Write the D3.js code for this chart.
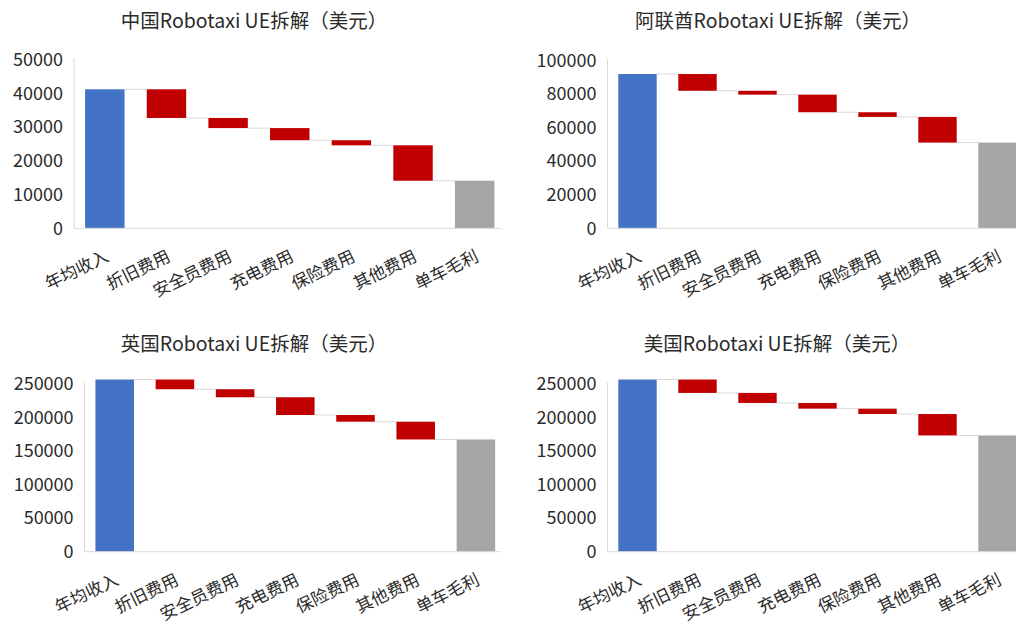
<!DOCTYPE html>
<html>
<head>
<meta charset="utf-8">
<script src="https://cdn.jsdelivr.net/npm/d3@7"></script>
<style>
  html, body { margin: 0; padding: 0; background: #fff; }
  svg { display: block; }
  text { font-family: "Noto Sans CJK SC", "Noto Sans", sans-serif; }
</style>
</head>
<body>
<svg id="chart" width="1016" height="624"></svg>
<script>
// Waterfall categories: revenue, cost items, gross profit per vehicle-year
const categories = ["年均收入", "折旧费用", "安全员费用", "充电费用", "保险费用", "其他费用", "单车毛利"];

// USD per vehicle per year: [revenue, costs..., profit]
const chinaValues = [41200, 8500, 3000, 3600, 1500, 10500, 14100];
const uaeValues   = [92000, 10000, 2300, 10500, 2800, 15300, 51100];
const ukValues    = [257000, 14500, 12000, 26500, 10000, 26500, 167500];
const usValues    = [257000, 20000, 15000, 8500, 8000, 32000, 173500];

const chinaTicks = [0, 10000, 20000, 30000, 40000, 50000];
const uaeTicks   = [0, 20000, 40000, 60000, 80000, 100000];
const ukTicks    = [0, 50000, 100000, 150000, 200000, 250000];
const usTicks    = [0, 50000, 100000, 150000, 200000, 250000];

const titles = [
  "中国Robotaxi UE拆解（美元）",
  "阿联酋Robotaxi UE拆解（美元）",
  "英国Robotaxi UE拆解（美元）",
  "美国Robotaxi UE拆解（美元）"
];

const COLORS = { total: "#4472C4", cost: "#C00000", result: "#A5A5A5", grid: "#D9D9D9", text: "#2b2b2b" };

const panels = [
  { title: titles[0], values: chinaValues, ticks: chinaTicks, x0: 74,    x1: 505.5, y0: 228.3, y1: 59.6,  titleX: 254, titleY: 28 },
  { title: titles[1], values: uaeValues,   ticks: uaeTicks,   x0: 607.5, x1: 1027.5, y0: 228.3, y1: 60.6, titleX: 778, titleY: 28 },
  { title: titles[2], values: ukValues,    ticks: ukTicks,    x0: 84.6,  x1: 506,   y0: 551.7, y1: 384.2, titleX: 254, titleY: 351 },
  { title: titles[3], values: usValues,    ticks: usTicks,    x0: 607.5, x1: 1027.5, y0: 551.7, y1: 384.2, titleX: 777, titleY: 351 }
];

const svg = d3.select("#chart");

panels.forEach(p => {
  const g = svg.append("g");
  const vals = p.values;
  const last = vals.length - 1;
  const maxTick = p.ticks[p.ticks.length - 1];

  // Build waterfall steps: first and last are totals from zero, middle are decreases
  let running = vals[0];
  const steps = vals.map((v, i) => {
    if (i === 0) return { cat: categories[i], lo: 0, hi: v, type: "total" };
    if (i === last) return { cat: categories[i], lo: 0, hi: v, type: "result" };
    const hi = running;
    running -= v;
    return { cat: categories[i], lo: running, hi: hi, type: "cost" };
  });

  const x = d3.scaleBand().domain(categories).range([p.x0, p.x1]).paddingInner(0.36).paddingOuter(0.18);
  const y = d3.scaleLinear().domain([0, maxTick]).range([p.y0, p.y1]);

  // Axis lines
  const axisRight = Math.min(p.x1 - 5, 1016);
  g.append("line").attr("x1", p.x0).attr("x2", p.x0).attr("y1", p.y1 - 1.5).attr("y2", p.y0)
    .attr("stroke", COLORS.grid).attr("stroke-width", 1);

  // Connectors between consecutive bars
  steps.forEach((s, i) => {
    if (i === last) return;
    const level = s.type === "total" ? s.hi : s.lo;
    g.append("line")
      .attr("x1", x(s.cat) + x.bandwidth())
      .attr("x2", x(steps[i + 1].cat))
      .attr("y1", y(level)).attr("y2", y(level))
      .attr("stroke", COLORS.grid).attr("stroke-width", 1);
  });

  // Bars
  g.selectAll("rect.bar").data(steps).join("rect")
    .attr("class", "bar")
    .attr("x", d => x(d.cat))
    .attr("width", x.bandwidth())
    .attr("y", d => y(d.hi))
    .attr("height", d => y(d.lo) - y(d.hi))
    .attr("fill", d => COLORS[d.type]);

  g.append("line").attr("x1", p.x0).attr("x2", axisRight).attr("y1", p.y0).attr("y2", p.y0)
    .attr("stroke", COLORS.grid).attr("stroke-width", 1);

  // Y axis labels
  const yAxis = g.append("g").attr("transform", `translate(${p.x0 - 11},0)`)
    .call(d3.axisLeft(y).tickValues(p.ticks).tickSize(0).tickPadding(0).tickFormat(d3.format("d")));
  yAxis.select(".domain").remove();
  yAxis.selectAll("text").attr("font-size", 18).attr("fill", COLORS.text)
    .attr("font-family", "'Noto Sans CJK SC', 'Noto Sans', sans-serif");

  // X axis labels, rotated
  const xAxis = g.append("g").attr("transform", `translate(0,${p.y0})`)
    .call(d3.axisBottom(x).tickSize(0));
  xAxis.select(".domain").remove();
  xAxis.selectAll("text")
    .attr("x", 0).attr("y", 0).attr("dy", 0)
    .attr("text-anchor", "end")
    .attr("transform", "translate(5,32) rotate(-26)")
    .attr("font-size", 17).attr("fill", COLORS.text)
    .attr("font-family", "'Noto Sans CJK SC', sans-serif");

  // Title
  g.append("text").attr("x", p.titleX).attr("y", p.titleY)
    .attr("text-anchor", "middle").attr("font-size", 19.5).attr("fill", COLORS.text)
    .text(p.title);
});
</script>
</body>
</html>
